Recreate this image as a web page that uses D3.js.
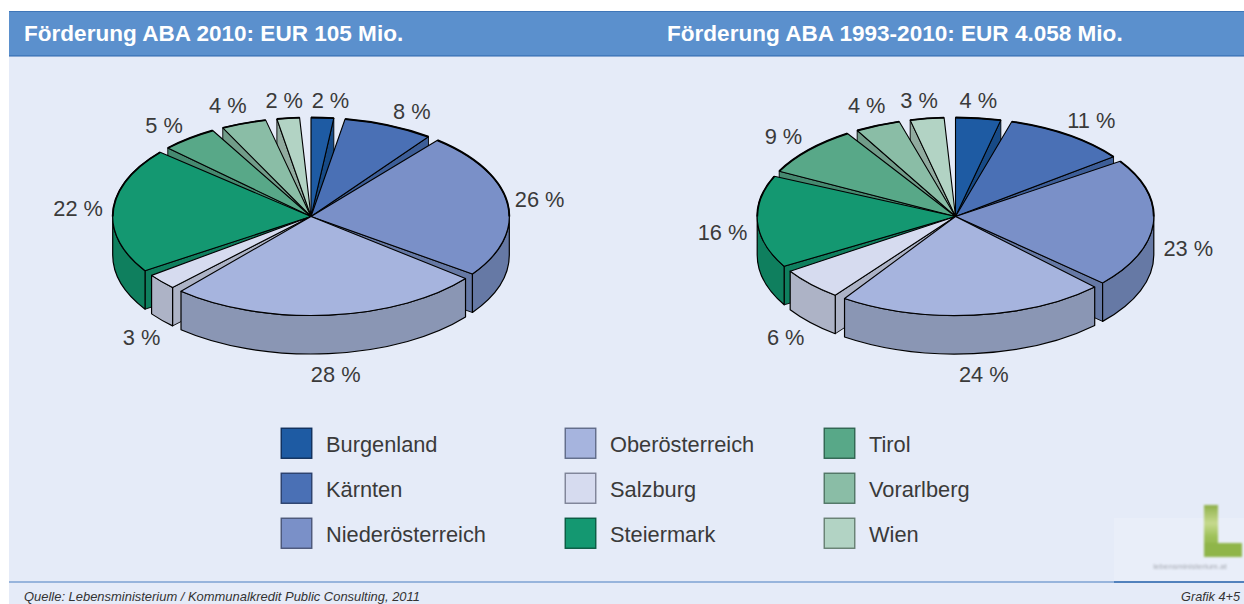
<!DOCTYPE html>
<html><head><meta charset="utf-8">
<script src="https://cdnjs.cloudflare.com/ajax/libs/d3/7.8.5/d3.min.js"></script>
<style>
html,body{margin:0;padding:0;background:#fff;overflow:hidden}
svg{display:block}
text{font-family:"Liberation Sans",Arial,sans-serif}
</style></head><body>
<svg id="c" width="1244" height="604"></svg>
<script>
const categories=["Burgenland","Kärnten","Niederösterreich","Oberösterreich","Salzburg","Steiermark","Tirol","Vorarlberg","Wien"];
const values2010=[2,8,26,27.9,2.8,22.3,5,4,2];
const valuesTotal=[4,11,23,23.8,5.8,16.4,9,4,3];
const titles=["Förderung ABA 2010: EUR 105 Mio.","Förderung ABA 1993-2010: EUR 4.058 Mio."];
const topColors=["#1e5ba3","#4a70b5","#7a90c8","#a6b4de","#d6dbef","#149871","#58a888","#8abda6","#b2d3c4"];
const rimColors=["#174a86","#3d5e98","#6679a5","#8a96b4","#adb3c6","#0f7f5e","#468a70","#719c89","#91ab9f"];
const edgeColors=["#0f2f5c","#2a3f6c","#4a5678","#5f6a88","#7c8296","#0a5a42","#2f6450","#4f7464","#667e72"];
const source="Quelle: Lebensministerium / Kommunalkredit Public Consulting, 2011";
const note="Grafik 4+5";
// label nudges from the slice rim (layout only)
const nudges2010=[[8,-18],[23,-14],[32,-5],[7,59],[-20,55],[-35,-2],[-25,-13],[-16,-18],[-4,-18]];
const nudgesTotal=[[0,-18],[23,-15],[35,24],[10,59],[-25,53],[-35,10],[-25,-14],[-11,-20],[-8,-19]];

const svg=d3.select("#c");
const W=1244,H=604,L=9;
const bg="#e5ebf8";
svg.append("rect").attr("x",L).attr("y",11).attr("width",W-L).attr("height",H-11).attr("fill",bg);
svg.append("rect").attr("x",L).attr("y",11).attr("width",W-L).attr("height",45).attr("fill","#5b90cd");
svg.append("line").attr("x1",L).attr("x2",W).attr("y1",11.5).attr("y2",11.5).attr("stroke","#3f76b8");
svg.append("line").attr("x1",L).attr("x2",W).attr("y1",56).attr("y2",56).attr("stroke","#2a64ab").attr("stroke-width",1.2);
// logo patch
const defs=svg.append("defs");
defs.append("filter").attr("id","b").append("feGaussianBlur").attr("stdDeviation",1);
defs.append("filter").attr("id","b2").append("feGaussianBlur").attr("stdDeviation",.8);
const gr=defs.append("linearGradient").attr("id","lg").attr("x1",0).attr("y1",0).attr("x2",0).attr("y2",1);
[["0%","#8fb04a"],["35%","#c6da8e"],["60%","#9fc25a"],["100%","#86ab3c"]].forEach(s=>gr.append("stop").attr("offset",s[0]).attr("stop-color",s[1]));
svg.append("rect").attr("x",1114).attr("y",518).attr("width",130).attr("height",64).attr("fill","#e9eef9");
const lg=svg.append("g").attr("filter","url(#b)");
lg.append("rect").attr("x",1204).attr("y",505).attr("width",14).attr("height",52).attr("fill","url(#lg)");
lg.append("rect").attr("x",1204).attr("y",543).attr("width",38).attr("height",14).attr("fill","#8fb548");
svg.append("text").attr("x",1190).attr("y",569).attr("text-anchor","middle").attr("font-size",8).attr("fill","#a4a8b0").attr("filter","url(#b2)").text("lebensministerium.at");
svg.append("line").attr("x1",L).attr("x2",1114).attr("y1",582).attr("y2",582).attr("stroke","#4a7fc0").attr("stroke-width",1.2);
svg.append("line").attr("x1",1114).attr("x2",W).attr("y1",582).attr("y2",582).attr("stroke","#1f5ea8").attr("stroke-width",1.4);

svg.selectAll("text.title").data(titles).join("text").attr("class","title")
 .attr("x",(d,i)=>[24,667][i]).attr("y",41).attr("font-size",22.55).attr("font-weight",700).attr("fill","#fff").text(d=>d);
svg.append("text").attr("x",24).attr("y",601).attr("font-size",12.95).attr("font-style","italic").attr("fill","#333").text(source);
svg.append("text").attr("x",1240).attr("y",601).attr("text-anchor","end").attr("font-size",12.7).attr("font-style","italic").attr("fill","#333").text(note);

const rx=198.3, ry=99, depth=38.5;
const pad=3.3*Math.PI/180;
const pie=d3.pie().sort(null).startAngle(0).endAngle(2*Math.PI).padAngle(pad);
const arc=d3.arc().innerRadius(0).outerRadius(rx);
const pct=d3.format(".0f");
function drawPie(vals,cx,cy,nudges){
  const g=svg.append("g").attr("transform",`translate(${cx},${cy})`);
  const pt=(t,dy=0)=>[rx*Math.sin(t),-ry*Math.cos(t)+dy];
  const slices=pie(vals).map((a,i)=>{
    const s=a.startAngle,e=a.endAngle-a.padAngle;
    return {i,s,e,m:(s+e)/2,v:a.value};
  });
  const order=slices.slice().sort((a,b)=>Math.cos(b.m)-Math.cos(a.m));
  order.forEach(d=>{
    const sg=g.append("g");
    const wall=t=>{
      const p=d3.path();
      p.moveTo(0,0);p.lineTo(...pt(t));p.lineTo(...pt(t,depth));p.lineTo(0,depth);p.closePath();
      sg.append("path").attr("d",p.toString()).attr("fill",rimColors[d.i]).attr("stroke","#000").attr("stroke-width",.9).attr("stroke-linejoin","round");
    };
    if(Math.sin(d.s)<0) wall(d.s);
    if(Math.sin(d.e)>0) wall(d.e);
    const a0=Math.max(d.s,Math.PI/2),a1=Math.min(d.e,3*Math.PI/2);
    if(a1>a0){
      const [x0,y0]=pt(a0),[x1,y1]=pt(a1);
      const large=a1-a0>Math.PI?1:0;
      const da=`M${x0},${y0}A${rx},${ry} 0 ${large} 1 ${x1},${y1}L${x1},${y1+depth}A${rx},${ry} 0 ${large} 0 ${x0},${y0+depth}Z`;
      sg.append("path").attr("d",da).attr("fill",rimColors[d.i]).attr("stroke","#000").attr("stroke-width",1.2).attr("stroke-linejoin","round");
    }
    sg.append("path").attr("d",arc({startAngle:d.s,endAngle:d.e}))
      .attr("transform",`scale(1,${ry/rx})`).attr("vector-effect","non-scaling-stroke")
      .attr("fill",topColors[d.i]).attr("stroke","#000").attr("stroke-width",1.1).attr("stroke-linejoin","round");
    // heavier back rim
    const clampBack=t=>Math.cos(t)>0;
    if(clampBack(d.s)||clampBack(d.e)){
      const b0=d.s<Math.PI/2||d.s>3*Math.PI/2?d.s:3*Math.PI/2;
      const b1=d.e<Math.PI/2?d.e:(d.s<Math.PI/2?Math.PI/2:d.e);
      const [x0,y0]=pt(b0),[x1,y1]=pt(b1);
      sg.append("path").attr("d",`M${x0},${y0}A${rx},${ry} 0 0 1 ${x1},${y1}`).attr("fill","none").attr("stroke","#000").attr("stroke-width",1.9);
    }
  });
  slices.forEach(d=>{
    const [x,y]=pt(d.m);
    g.append("text").attr("x",x+nudges[d.i][0]).attr("y",y+nudges[d.i][1]+8).attr("text-anchor","middle")
      .attr("font-size",21.8).attr("fill","#3a3a3a").text(pct(d.v)+" %");
  });
}
drawPie(values2010,311,216.5,nudges2010);
drawPie(valuesTotal,955.5,216.5,nudgesTotal);

// legend
const colX=d3.scaleOrdinal().domain([0,1,2]).range([281,565,824]);
const rowY=d3.scalePoint().domain([0,1,2]).range([428,518]);
const lgd=svg.selectAll("g.leg").data(categories).join("g").attr("class","leg")
  .attr("transform",(d,i)=>`translate(${colX(Math.floor(i/3))},${rowY(i%3)})`);
lgd.append("rect").attr("x",.25).attr("y",.25).attr("width",30.5).attr("height",30).attr("fill",(d,i)=>topColors[i]).attr("stroke",(d,i)=>edgeColors[i]).attr("stroke-width",1.4);
lgd.append("text").attr("x",45).attr("y",24).attr("font-size",21.8).attr("fill","#3a3a3a").text(d=>d);
</script>
</body></html>
